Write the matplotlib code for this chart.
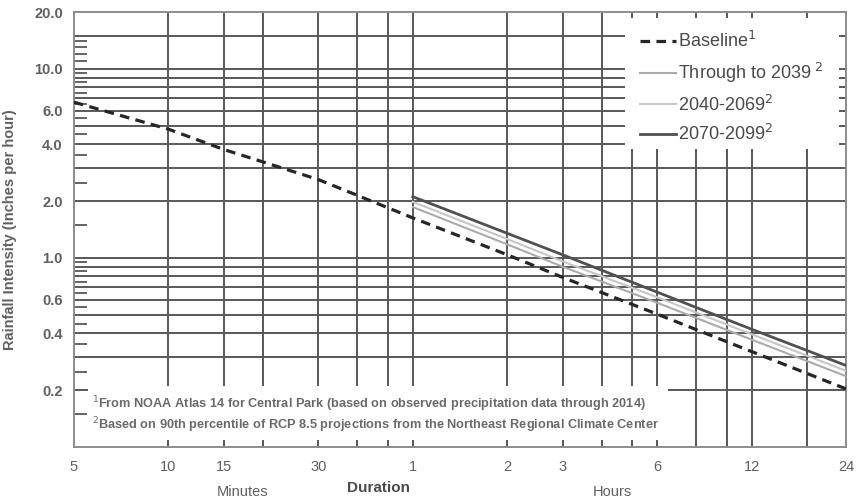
import matplotlib
matplotlib.use("Agg")
import matplotlib.pyplot as plt
from matplotlib.patches import Rectangle
from matplotlib.ticker import FixedLocator, FixedFormatter, NullFormatter

plt.rcParams["font.family"] = ["Liberation Sans", "DejaVu Sans"]

# durations in minutes
dur_base = [5, 10, 15, 30, 60, 120, 180, 360, 720, 1440]
baseline = [6.67, 4.8, 3.75, 2.6, 1.63, 1.04, 0.79, 0.505, 0.32, 0.203]

dur_proj = [60, 120, 180, 360, 720, 1440]
thru_2039 = [1.86, 1.18, 0.90, 0.58, 0.37, 0.237]
p2040_2069 = [1.98, 1.26, 0.96, 0.62, 0.395, 0.253]
p2070_2099 = [2.11, 1.35, 1.04, 0.66, 0.42, 0.27]

x_ticks = [5, 10, 15, 30, 60, 120, 180, 360, 720, 1440]
x_labels = ["5", "10", "15", "30", "1", "2", "3", "6", "12", "24"]
y_ticks = [0.2, 0.4, 0.6, 1, 2, 4, 6, 10, 20]
y_labels = ["0.2", "0.4", "0.6", "1.0", "2.0", "4.0", "6.0", "10.0", "20.0"]

# printed log-paper grid
h_grid = [0.2, 0.3, 0.4, 0.5, 0.6, 0.7, 0.8, 0.9, 1, 2, 3, 4, 5, 6, 7, 8, 9, 10, 15]
v_grid = [10, 15, 20, 30, 40, 50, 60, 120, 180, 240, 300, 360, 480, 600, 720, 1080]
half_ticks = [0.15, 0.25, 0.35, 0.45, 0.55, 0.65, 0.75, 0.85, 0.95,
              1.5, 2.5, 3.5, 4.5, 5.5, 6.5, 7.5, 8.5, 9.5, 11, 12, 13, 14]

grid_col = "#585858"
label_col = "#606060"

fig = plt.figure(figsize=(8.57, 5.03), dpi=100)
ax = fig.add_axes([0.0863, 0.1113, 0.9009, 0.8648])
ax.set_xscale("log")
ax.set_yscale("log")
ax.set_xlim(5, 1440)
ax.set_ylim(0.1, 20)

for v in h_grid:
    ax.axhline(v, color=grid_col, lw=1.4, zorder=1)
for v in v_grid:
    ax.axvline(v, color=grid_col, lw=1.4, zorder=1)

# blank panels behind the legend and the footnotes
ax.add_patch(Rectangle((0.714, 0.684), 0.277, 0.302, transform=ax.transAxes,
                       facecolor="white", edgecolor="none", zorder=1.2))
ax.add_patch(Rectangle((0.018, 0.016), 0.751, 0.124, transform=ax.transAxes,
                       facecolor="white", edgecolor="none", zorder=1.2))

ax.plot(dur_base, baseline, color="#262626", lw=2.3, dashes=(3, 2),
        label="Baseline$^{1}$", zorder=3)
ax.plot(dur_proj, thru_2039, color="#ababab", lw=1.5,
        label="Through to 2039$^{\\ 2}$", zorder=3)
ax.plot(dur_proj, p2040_2069, color="#c6c6c6", lw=1.5,
        label="2040-2069$^{2}$", zorder=3)
ax.plot(dur_proj, p2070_2099, color="#505050", lw=2.0,
        label="2070-2099$^{2}$", zorder=3)

ax.xaxis.set_major_locator(FixedLocator(x_ticks))
ax.xaxis.set_major_formatter(FixedFormatter(x_labels))
ax.xaxis.set_minor_locator(FixedLocator([]))
ax.xaxis.set_minor_formatter(NullFormatter())
ax.yaxis.set_major_locator(FixedLocator(y_ticks))
ax.yaxis.set_major_formatter(FixedFormatter(y_labels))
ax.yaxis.set_minor_locator(FixedLocator(half_ticks))
ax.yaxis.set_minor_formatter(NullFormatter())

ax.tick_params(axis="x", which="major", length=0, pad=9, labelsize=10.5,
               labelcolor=label_col)
ax.tick_params(axis="y", which="major", length=0, pad=8, labelsize=10.5,
               labelcolor=label_col)
for lab in ax.get_yticklabels():
    lab.set_fontweight("bold")
ax.tick_params(axis="y", which="minor", direction="in", length=9.5,
               width=1.3, color=grid_col, left=True, right=False)

for sp in ax.spines.values():
    sp.set_color("#8c8c8c")
    sp.set_linewidth(1.4)

ax.set_ylabel("Rainfall Intensity (Inches per hour)", fontsize=10.5,
              fontweight="bold", color=label_col, labelpad=12)

leg = ax.legend(loc="upper left", bbox_to_anchor=(0.712, 0.993),
                frameon=False, fontsize=13, handlelength=2.0,
                handletextpad=0.1, labelspacing=0.53)
for t in leg.get_texts():
    t.set_color("#4a4a4a")

ax.text(0.024, 0.098,
        "$^{1}$From NOAA Atlas 14 for Central Park (based on observed "
        "precipitation data through 2014)",
        transform=ax.transAxes, fontsize=9.2, color="#6a6a6a",
        fontweight="bold", va="center", zorder=4)
ax.text(0.024, 0.05,
        "$^{2}$Based on 90th percentile of RCP 8.5 projections from the "
        "Northeast Regional Climate Center",
        transform=ax.transAxes, fontsize=9.2, color="#6a6a6a",
        fontweight="bold", va="center", zorder=4)

fig.text(243 / 857, 1 - 492 / 503, "Minutes", ha="center", va="center",
         fontsize=10.5, color=label_col)
fig.text(378 / 857, 1 - 488 / 503, "Duration", ha="center", va="center",
         fontsize=11, fontweight="bold", color="#4a4a4a")
fig.text(612 / 857, 1 - 492 / 503, "Hours", ha="center", va="center",
         fontsize=10.5, color=label_col)

fig.savefig("out.png", dpi=100, facecolor="white")
